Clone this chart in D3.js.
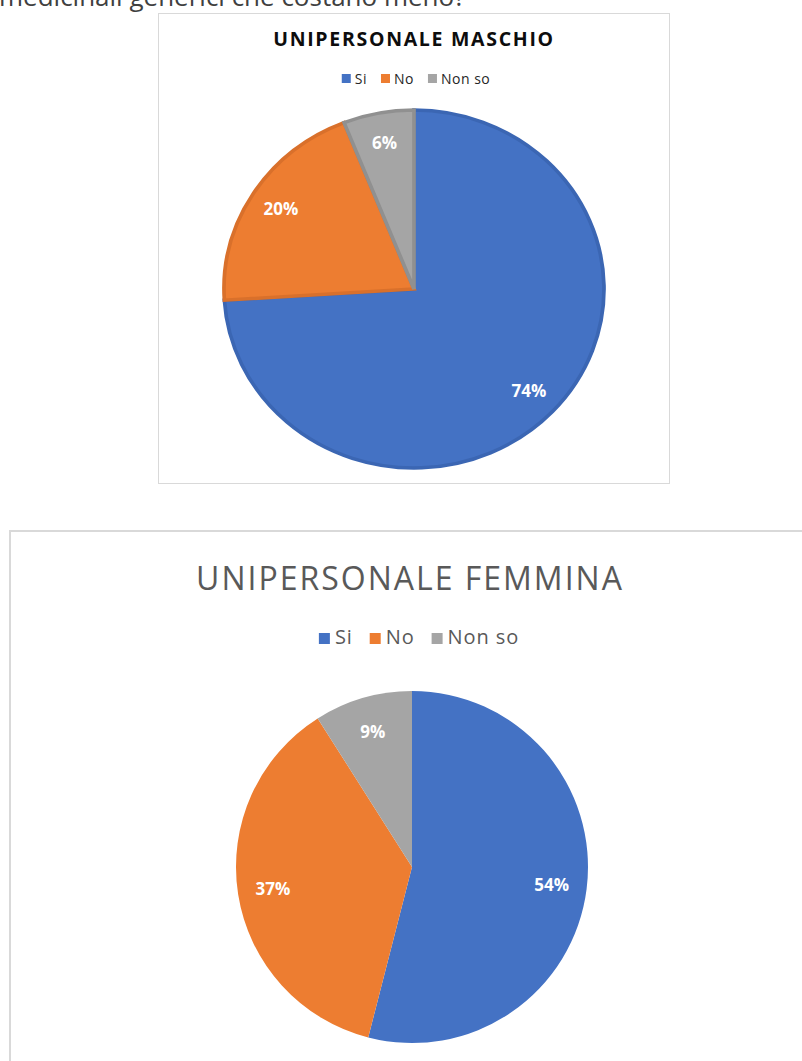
<!DOCTYPE html>
<html>
<head>
<meta charset="utf-8">
<script src="https://cdn.jsdelivr.net/npm/d3@7"></script>
<style>
  body { margin: 0; background: #fff; }
  svg { display: block; }
</style>
</head>
<body>
<div id="chart"></div>
<script>
// Data
const categories = ["Si", "No", "Non so"];
const maschioValues = [74, 20, 6];
const femminaValues = [54, 37, 9];
const headerText = "medicinali generici che costano meno?";

const colors = ["#4472C4", "#ED7D31", "#A5A5A5"];
const strokeColors = ["#3B66B3", "#D9702B", "#909090"];

const W = 802, H = 1061;

const svg = d3.select("#chart").append("svg")
    .attr("width", W)
    .attr("height", H);

svg.append("rect").attr("width", W).attr("height", H).attr("fill", "#fff");

// cut-off question text at the very top (it is cut in the original too)
svg.append("text")
    .attr("x", -1)
    .attr("y", 6)
    .attr("font-family", "Open Sans, sans-serif")
    .attr("font-size", "26px")
    .attr("fill", "#404040")
    .text(headerText);

const pie = d3.pie().sort(null).value(d => d);

// legend laid out in a row, centred on cx
function drawLegend(g, cx, y, opt) {
    const items = g.selectAll(".lg").data(categories).enter().append("g").attr("class", "lg");
    items.append("rect")
        .attr("width", opt.box)
        .attr("height", opt.box)
        .attr("y", -opt.box + opt.boxDy)
        .attr("fill", (d, i) => colors[i]);
    items.append("text")
        .attr("x", opt.box + opt.gap)
        .attr("font-family", opt.font)
        .attr("font-size", opt.size)
        .attr("letter-spacing", opt.spacing)
        .attr("fill", opt.color)
        .text(d => d);
    const widths = [];
    items.each(function () { widths.push(this.getBBox().width); });
    const total = d3.sum(widths) + opt.itemGap * (widths.length - 1);
    let x = cx - total / 2;
    items.attr("transform", (d, i) => {
        const t = `translate(${x}, ${y})`;
        x += widths[i] + opt.itemGap;
        return t;
    });
}

// ---------- Chart 1: UNIPERSONALE MASCHIO ----------
svg.append("rect")
    .attr("x", 158.5).attr("y", 13.5)
    .attr("width", 511).attr("height", 470)
    .attr("fill", "#fff")
    .attr("stroke", "#d9d9d9");

svg.append("text")
    .attr("x", 414)
    .attr("y", 46)
    .attr("text-anchor", "middle")
    .attr("font-family", "Open Sans, sans-serif")
    .attr("font-weight", "bold")
    .attr("font-size", "19.5px")
    .attr("letter-spacing", "1.7px")
    .attr("fill", "#0d0d0d")
    .text("UNIPERSONALE MASCHIO");

drawLegend(svg.append("g"), 416, 84, {
    box: 9, boxDy: -1, gap: 4, itemGap: 14,
    font: "Open Sans, sans-serif", size: "14px", spacing: "0.5px", color: "#262626"
});

const r1 = 179, sx1 = 190 / 179;
const arc1 = d3.arc().innerRadius(0).outerRadius(r1);
const lab1 = d3.arc().innerRadius(r1 * 0.66).outerRadius(r1);
const pie1 = pie(maschioValues);

svg.append("g")
    .attr("transform", `translate(414, 289) scale(${sx1}, 1)`)
    .selectAll("path").data(pie1).enter().append("path")
    .attr("d", arc1)
    .attr("fill", (d, i) => colors[i])
    .attr("stroke", (d, i) => strokeColors[i])
    .attr("stroke-width", 3.5)
    .attr("stroke-linejoin", "miter");

svg.append("g")
    .attr("transform", "translate(414, 289)")
    .selectAll("text").data(pie1).enter().append("text")
    .attr("x", d => lab1.centroid(d)[0] * sx1)
    .attr("y", d => lab1.centroid(d)[1])
    .attr("dy", "0.35em")
    .attr("text-anchor", "middle")
    .attr("font-family", "Open Sans, sans-serif")
    .attr("font-weight", "bold")
    .attr("font-size", "17px")
    .attr("fill", "#fff")
    .text(d => d.data + "%");

// ---------- Chart 2: UNIPERSONALE FEMMINA ----------
svg.append("rect")
    .attr("x", 10).attr("y", 531)
    .attr("width", 820).attr("height", 560)
    .attr("fill", "#fff")
    .attr("stroke", "#d9d9d9")
    .attr("stroke-width", 2);

svg.append("text")
    .attr("x", 410)
    .attr("y", 590)
    .attr("text-anchor", "middle")
    .attr("font-family", "Open Sans, sans-serif")
    .attr("font-size", "32px")
    .attr("letter-spacing", "2px")
    .attr("fill", "#595959")
    .text("UNIPERSONALE FEMMINA");

drawLegend(svg.append("g"), 419, 644, {
    box: 11, boxDy: 0, gap: 5, itemGap: 17,
    font: "Open Sans, sans-serif", size: "20px", spacing: "0.9px", color: "#595959"
});

const r2 = 176;
const arc2 = d3.arc().innerRadius(0).outerRadius(r2);
const lab2 = d3.arc().innerRadius(r2 * 0.6).outerRadius(r2);
const pie2 = pie(femminaValues);

const g2 = svg.append("g").attr("transform", "translate(412, 867)");

g2.selectAll("path").data(pie2).enter().append("path")
    .attr("d", arc2)
    .attr("fill", (d, i) => colors[i]);

g2.selectAll("text").data(pie2).enter().append("text")
    .attr("x", d => lab2.centroid(d)[0])
    .attr("y", d => lab2.centroid(d)[1])
    .attr("dy", "0.35em")
    .attr("text-anchor", "middle")
    .attr("font-family", "Open Sans, sans-serif")
    .attr("font-weight", "bold")
    .attr("font-size", "17px")
    .attr("fill", "#fff")
    .text(d => d.data + "%");
</script>
</body>
</html>
